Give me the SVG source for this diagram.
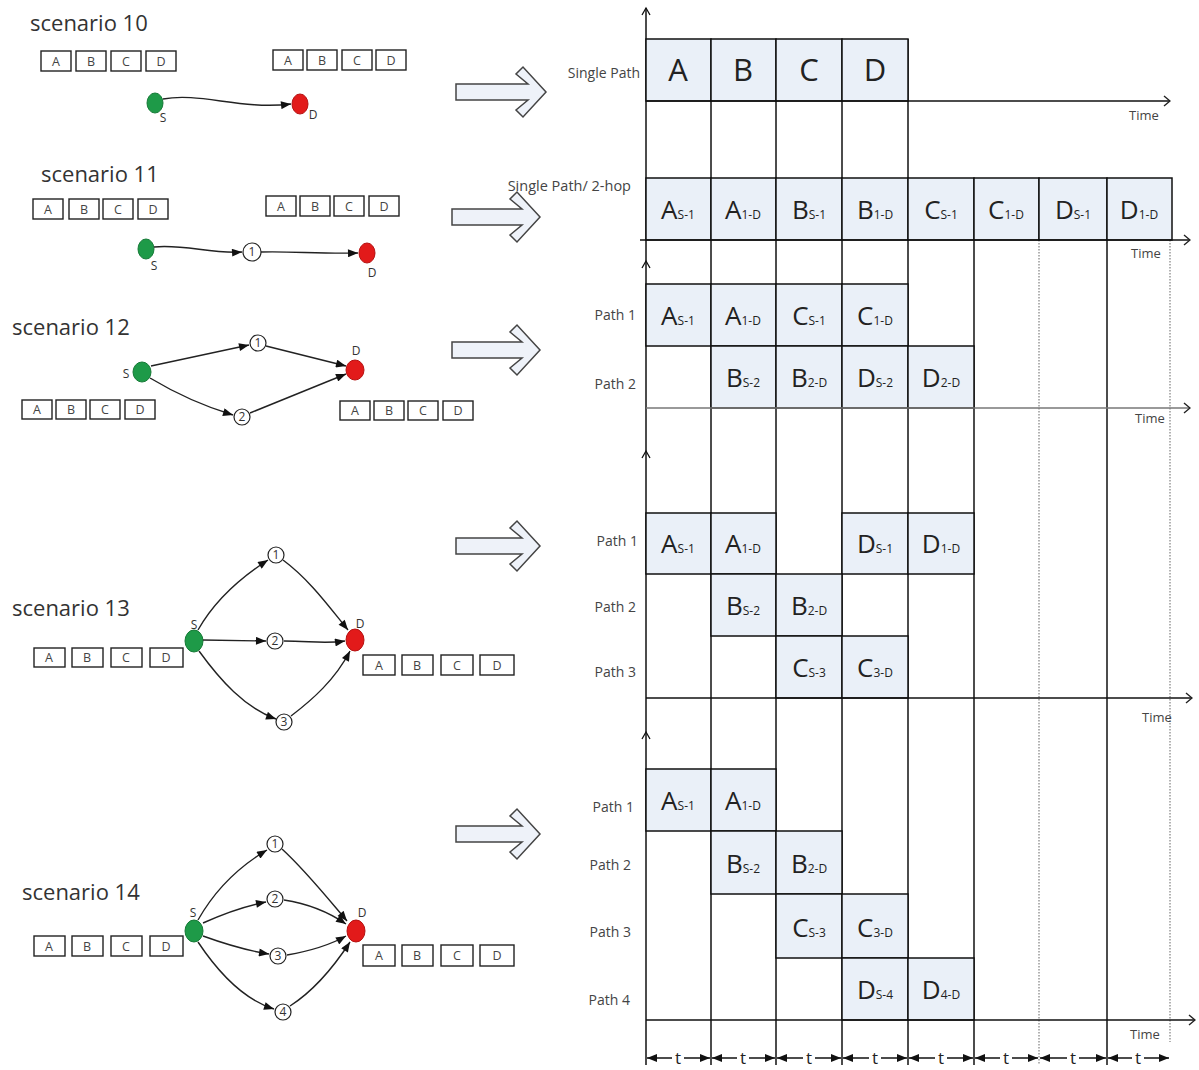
<svg xmlns="http://www.w3.org/2000/svg" width="1199" height="1070" viewBox="0 0 1199 1070">
<style>
.title{font-family:"Open Sans","Liberation Sans",sans-serif;font-size:22px;fill:#333}
.pk{fill:#fff;stroke:#222;stroke-width:1.4}
.pkt{font-family:"Open Sans","Liberation Sans",sans-serif;font-size:12.5px;fill:#444;text-anchor:middle}
.nl{font-family:"Open Sans","Liberation Sans",sans-serif;font-size:12px;fill:#333;text-anchor:middle}
.src{fill:#1e9a48;stroke:#157a36;stroke-width:1}
.dst{fill:#e21a1a;stroke:#b51010;stroke-width:1}
.mid{fill:#fff;stroke:#222;stroke-width:1.2}
.midt{font-family:"Open Sans","Liberation Sans",sans-serif;font-size:12px;fill:#333;text-anchor:middle}
.edge{fill:none;stroke:#222;stroke-width:1.4;marker-end:url(#ah)}
.barrow{fill:#eef2f9;stroke:#444;stroke-width:1.5}
.grid{stroke:#111;stroke-width:1.5}
.dot{stroke:#999;stroke-width:1.5;stroke-dasharray:1.5 1.5}
.cell{fill:#eaf0f8;stroke:#111;stroke-width:1.5}
.big{font-family:"Open Sans","Liberation Sans",sans-serif;font-size:31px;fill:#222;text-anchor:middle}
.bl{font-family:"Open Sans","Liberation Sans",sans-serif;font-size:26px;fill:#222;text-anchor:middle}
.sub{font-size:12px}
.lab{font-family:"Open Sans","Liberation Sans",sans-serif;font-size:14px;fill:#444;text-anchor:end}
.time{font-family:"Open Sans","Liberation Sans",sans-serif;font-size:13px;fill:#444}
.axis{fill:none;stroke:#111;stroke-width:1.5;marker-end:url(#open)}
.tl{font-family:"Open Sans","Liberation Sans",sans-serif;font-size:17px;fill:#222;text-anchor:middle}
.tarr{stroke:#111;stroke-width:1.5;marker-end:url(#tri)}
</style>
<defs>
<marker id="ah" viewBox="0 0 10 8" refX="10" refY="4" markerWidth="11" markerHeight="8" orient="auto" markerUnits="userSpaceOnUse"><path d="M0,0 L10,4 L0,8 z" fill="#111"/></marker>
<marker id="open" viewBox="0 0 10 12" refX="9" refY="6" markerWidth="10" markerHeight="12" orient="auto" markerUnits="userSpaceOnUse"><path d="M3,1 L9,6 L3,11" fill="none" stroke="#222" stroke-width="1.4"/></marker>
<marker id="tri" viewBox="0 0 10 8" refX="10" refY="4" markerWidth="10" markerHeight="8" orient="auto" markerUnits="userSpaceOnUse"><path d="M0,0 L10,4 L0,8 z" fill="#111"/></marker>
</defs>
<rect width="1199" height="1070" fill="#fff"/>

<!-- ===== Left: scenarios ===== -->
<g id="scenario10">
<text class="title" x="30" y="31">scenario 10</text>
<rect class="pk" x="41" y="51" width="30" height="20"/><rect class="pk" x="76" y="51" width="30" height="20"/><rect class="pk" x="111" y="51" width="30" height="20"/><rect class="pk" x="146" y="51" width="30" height="20"/>
<text class="pkt" x="56" y="66">A</text><text class="pkt" x="91" y="66">B</text><text class="pkt" x="126" y="66">C</text><text class="pkt" x="161" y="66">D</text>
<rect class="pk" x="273" y="50" width="30" height="20"/><rect class="pk" x="307" y="50" width="30" height="20"/><rect class="pk" x="342" y="50" width="30" height="20"/><rect class="pk" x="376" y="50" width="30" height="20"/>
<text class="pkt" x="288" y="65">A</text><text class="pkt" x="322" y="65">B</text><text class="pkt" x="357" y="65">C</text><text class="pkt" x="391" y="65">D</text>
</g>
<g id="s10-S"><ellipse class="src" cx="155" cy="103" rx="8" ry="10"/><text class="nl" x="163" y="122">S</text></g>
<g id="s10-D"><ellipse class="dst" cx="300" cy="104" rx="8" ry="10"/><text class="nl" x="313" y="119">D</text></g>

<g id="scenario11">
<text class="title" x="41" y="182">scenario 11</text>
<rect class="pk" x="33" y="199" width="30" height="20"/><rect class="pk" x="69" y="199" width="30" height="20"/><rect class="pk" x="103" y="199" width="30" height="20"/><rect class="pk" x="138" y="199" width="30" height="20"/>
<text class="pkt" x="48" y="214">A</text><text class="pkt" x="84" y="214">B</text><text class="pkt" x="118" y="214">C</text><text class="pkt" x="153" y="214">D</text>
<rect class="pk" x="266" y="196" width="30" height="20"/><rect class="pk" x="300" y="196" width="30" height="20"/><rect class="pk" x="334" y="196" width="30" height="20"/><rect class="pk" x="369" y="196" width="30" height="20"/>
<text class="pkt" x="281" y="211">A</text><text class="pkt" x="315" y="211">B</text><text class="pkt" x="349" y="211">C</text><text class="pkt" x="384" y="211">D</text>
</g>
<g id="s11-S"><ellipse class="src" cx="146" cy="249" rx="8" ry="10"/><text class="nl" x="154" y="270">S</text></g>
<g id="s11-1"><circle class="mid" cx="252" cy="252" r="9"/><text class="midt" x="252" y="256">1</text></g>
<g id="s11-D"><ellipse class="dst" cx="367" cy="253" rx="8" ry="10"/><text class="nl" x="372" y="277">D</text></g>

<g id="scenario12">
<text class="title" x="12" y="335">scenario 12</text>
<rect class="pk" x="22" y="400" width="30" height="19"/><rect class="pk" x="56" y="400" width="30" height="19"/><rect class="pk" x="90" y="400" width="30" height="19"/><rect class="pk" x="125" y="400" width="30" height="19"/>
<text class="pkt" x="37" y="414">A</text><text class="pkt" x="71" y="414">B</text><text class="pkt" x="105" y="414">C</text><text class="pkt" x="140" y="414">D</text>
<rect class="pk" x="340" y="401" width="30" height="19"/><rect class="pk" x="374" y="401" width="30" height="19"/><rect class="pk" x="408" y="401" width="30" height="19"/><rect class="pk" x="443" y="401" width="30" height="19"/>
<text class="pkt" x="355" y="415">A</text><text class="pkt" x="389" y="415">B</text><text class="pkt" x="423" y="415">C</text><text class="pkt" x="458" y="415">D</text>
</g>
<g id="s12-S"><ellipse class="src" cx="142" cy="372" rx="9" ry="10"/><text class="nl" x="126" y="378">S</text></g>
<g id="s12-1"><circle class="mid" cx="258" cy="343" r="8"/><text class="midt" x="258" y="347">1</text></g>
<g id="s12-2"><circle class="mid" cx="242" cy="417" r="8"/><text class="midt" x="242" y="421">2</text></g>
<g id="s12-D"><ellipse class="dst" cx="355" cy="370" rx="9" ry="10"/><text class="nl" x="356" y="355">D</text></g>

<g id="scenario13">
<text class="title" x="12" y="616">scenario 13</text>
<rect class="pk" x="34" y="648" width="31" height="19"/><rect class="pk" x="72" y="648" width="31" height="19"/><rect class="pk" x="111" y="648" width="31" height="19"/><rect class="pk" x="150" y="648" width="33" height="19"/>
<text class="pkt" x="49" y="662">A</text><text class="pkt" x="87" y="662">B</text><text class="pkt" x="126" y="662">C</text><text class="pkt" x="166" y="662">D</text>
<rect class="pk" x="363" y="655" width="32" height="20"/><rect class="pk" x="402" y="655" width="31" height="20"/><rect class="pk" x="441" y="655" width="32" height="20"/><rect class="pk" x="480" y="655" width="34" height="20"/>
<text class="pkt" x="379" y="670">A</text><text class="pkt" x="417" y="670">B</text><text class="pkt" x="457" y="670">C</text><text class="pkt" x="497" y="670">D</text>
</g>
<g id="s13-S"><ellipse class="src" cx="194" cy="641" rx="9" ry="11"/><text class="nl" x="194" y="629">S</text></g>
<g id="s13-1"><circle class="mid" cx="276" cy="555" r="8"/><text class="midt" x="276" y="559">1</text></g>
<g id="s13-2"><circle class="mid" cx="275" cy="641" r="8"/><text class="midt" x="275" y="645">2</text></g>
<g id="s13-3"><circle class="mid" cx="284" cy="722" r="8"/><text class="midt" x="284" y="726">3</text></g>
<g id="s13-D"><ellipse class="dst" cx="355" cy="640" rx="9" ry="11"/><text class="nl" x="360" y="628">D</text></g>

<g id="scenario14">
<text class="title" x="22" y="900">scenario 14</text>
<rect class="pk" x="34" y="936" width="31" height="20"/><rect class="pk" x="72" y="936" width="31" height="20"/><rect class="pk" x="111" y="936" width="31" height="20"/><rect class="pk" x="150" y="936" width="33" height="20"/>
<text class="pkt" x="49" y="951">A</text><text class="pkt" x="87" y="951">B</text><text class="pkt" x="126" y="951">C</text><text class="pkt" x="166" y="951">D</text>
<rect class="pk" x="363" y="945" width="32" height="21"/><rect class="pk" x="402" y="945" width="31" height="21"/><rect class="pk" x="441" y="945" width="32" height="21"/><rect class="pk" x="480" y="945" width="34" height="21"/>
<text class="pkt" x="379" y="960">A</text><text class="pkt" x="417" y="960">B</text><text class="pkt" x="457" y="960">C</text><text class="pkt" x="497" y="960">D</text>
</g>
<g id="s14-S"><ellipse class="src" cx="194" cy="931" rx="9" ry="11"/><text class="nl" x="193" y="917">S</text></g>
<g id="s14-1"><circle class="mid" cx="275" cy="844" r="8"/><text class="midt" x="275" y="848">1</text></g>
<g id="s14-2"><circle class="mid" cx="275" cy="899" r="8"/><text class="midt" x="275" y="903">2</text></g>
<g id="s14-3"><circle class="mid" cx="278" cy="956" r="8"/><text class="midt" x="278" y="960">3</text></g>
<g id="s14-4"><circle class="mid" cx="283" cy="1012" r="8"/><text class="midt" x="283" y="1016">4</text></g>
<g id="s14-D"><ellipse class="dst" cx="356" cy="931" rx="9" ry="11"/><text class="nl" x="362" y="917">D</text></g>

<g id="connectors">
<path class="edge" d="M163,99 C200,92 240,110 291,104"/>
<path class="edge" d="M154,247 C185,244 210,254 242,252"/>
<path class="edge" d="M261,252 C290,251 320,254 358,253"/>
<path class="edge" d="M151,366 L249,345"/>
<path class="edge" d="M266,346 L346,366"/>
<path class="edge" d="M150,378 Q190,402 233,415"/>
<path class="edge" d="M250,413 L346,374"/>
<path class="edge" d="M198,630 C215,600 240,578 268,560"/>
<path class="edge" d="M283,560 C310,580 330,608 348,630"/>
<path class="edge" d="M203,640 L266,641"/>
<path class="edge" d="M284,641 C310,641 325,644 345,641"/>
<path class="edge" d="M199,651 C220,680 245,708 276,719"/>
<path class="edge" d="M291,716 C312,700 335,680 350,651"/>
<path class="edge" d="M198,920 C215,890 240,866 267,850"/>
<path class="edge" d="M282,849 C305,870 325,895 347,921"/>
<path class="edge" d="M203,923 C225,913 245,906 266,902"/>
<path class="edge" d="M284,900 C310,904 330,913 346,924"/>
<path class="edge" d="M203,936 C225,944 250,951 269,954"/>
<path class="edge" d="M287,955 C310,951 330,945 346,936"/>
<path class="edge" d="M198,942 C220,975 245,1000 274,1009"/>
<path class="edge" d="M290,1006 C315,990 335,965 350,942"/>
</g>

<!-- block arrows -->
<g id="arrows">
<polygon class="barrow" points="456,84 528,84 516,74 523,67 546,92 523,117 516,110 528,100 456,100"/>
<polygon class="barrow" points="452,209 522,209 510,199 517,192 540,217 517,242 510,235 522,225 452,225"/>
<polygon class="barrow" points="452,342 522,342 510,332 517,325 540,350 517,375 510,368 522,358 452,358"/>
<polygon class="barrow" points="456,538 522,538 510,528 517,521 540,546 517,571 510,564 522,554 456,554"/>
<polygon class="barrow" points="456,826 522,826 510,816 517,809 540,834 517,859 510,852 522,842 456,842"/>
</g>

<!-- ===== Right: timing charts ===== -->
<g id="grid">
<line class="grid" x1="646" y1="8" x2="646" y2="1065"/>
<polyline fill="none" stroke="#111" stroke-width="1.3" points="642,15 646,8 650,15"/>
<polyline fill="none" stroke="#111" stroke-width="1.3" points="642,268 646,261 650,268"/>
<polyline fill="none" stroke="#111" stroke-width="1.3" points="642,458 646,451 650,458"/>
<polyline fill="none" stroke="#111" stroke-width="1.3" points="642,739 646,732 650,739"/>
<line class="grid" x1="711" y1="39" x2="711" y2="1065"/>
<line class="grid" x1="776" y1="39" x2="776" y2="1065"/>
<line class="grid" x1="842" y1="39" x2="842" y2="1065"/>
<line class="grid" x1="908" y1="39" x2="908" y2="1065"/>
<line class="grid" x1="974" y1="178" x2="974" y2="1065"/>
<line class="dot" x1="1039" y1="240" x2="1039" y2="1065"/>
<line class="grid" x1="1107" y1="240" x2="1107" y2="1065"/>
<line class="dot" x1="1170" y1="240" x2="1170" y2="1042"/>
</g>

<g id="chart1">
<rect class="cell" x="646" y="39" width="65" height="62"/><rect class="cell" x="711" y="39" width="65" height="62"/><rect class="cell" x="776" y="39" width="66" height="62"/><rect class="cell" x="842" y="39" width="66" height="62"/>
<text class="big" x="678" y="81">A</text><text class="big" x="743" y="81">B</text><text class="big" x="809" y="81">C</text><text class="big" x="875" y="81">D</text>
<text class="lab" x="640" y="78">Single Path</text>
</g>

<g id="chart2">
<rect class="cell" x="646" y="178" width="65" height="62"/><rect class="cell" x="711" y="178" width="65" height="62"/><rect class="cell" x="776" y="178" width="66" height="62"/><rect class="cell" x="842" y="178" width="66" height="62"/>
<rect class="cell" x="908" y="178" width="66" height="62"/><rect class="cell" x="974" y="178" width="65" height="62"/><rect class="cell" x="1039" y="178" width="68" height="62"/><rect class="cell" x="1107" y="178" width="65" height="62"/>
<text class="bl" x="678" y="219">A<tspan class="sub">S-1</tspan></text>
<text class="bl" x="743" y="219">A<tspan class="sub">1-D</tspan></text>
<text class="bl" x="809" y="219">B<tspan class="sub">S-1</tspan></text>
<text class="bl" x="875" y="219">B<tspan class="sub">1-D</tspan></text>
<text class="bl" x="941" y="219">C<tspan class="sub">S-1</tspan></text>
<text class="bl" x="1006" y="219">C<tspan class="sub">1-D</tspan></text>
<text class="bl" x="1073" y="219">D<tspan class="sub">S-1</tspan></text>
<text class="bl" x="1139" y="219">D<tspan class="sub">1-D</tspan></text>
<text class="lab" x="631" y="191" style="font-size:14.5px">Single Path/ 2-hop</text>
</g>

<g id="chart3">
<rect class="cell" x="646" y="284" width="65" height="62"/><rect class="cell" x="711" y="284" width="65" height="62"/><rect class="cell" x="776" y="284" width="66" height="62"/><rect class="cell" x="842" y="284" width="66" height="62"/>
<rect class="cell" x="711" y="346" width="65" height="62"/><rect class="cell" x="776" y="346" width="66" height="62"/><rect class="cell" x="842" y="346" width="66" height="62"/><rect class="cell" x="908" y="346" width="66" height="62"/>
<text class="bl" x="678" y="325">A<tspan class="sub">S-1</tspan></text>
<text class="bl" x="743" y="325">A<tspan class="sub">1-D</tspan></text>
<text class="bl" x="809" y="325">C<tspan class="sub">S-1</tspan></text>
<text class="bl" x="875" y="325">C<tspan class="sub">1-D</tspan></text>
<text class="bl" x="743" y="387">B<tspan class="sub">S-2</tspan></text>
<text class="bl" x="809" y="387">B<tspan class="sub">2-D</tspan></text>
<text class="bl" x="875" y="387">D<tspan class="sub">S-2</tspan></text>
<text class="bl" x="941" y="387">D<tspan class="sub">2-D</tspan></text>
<text class="lab" x="636" y="320">Path 1</text>
<text class="lab" x="636" y="389">Path 2</text>
</g>

<g id="chart4">
<rect class="cell" x="646" y="513" width="65" height="61"/><rect class="cell" x="711" y="513" width="65" height="61"/><rect class="cell" x="842" y="513" width="66" height="61"/><rect class="cell" x="908" y="513" width="66" height="61"/>
<rect class="cell" x="711" y="574" width="65" height="62"/><rect class="cell" x="776" y="574" width="66" height="62"/>
<rect class="cell" x="776" y="636" width="66" height="62"/><rect class="cell" x="842" y="636" width="66" height="62"/>
<text class="bl" x="678" y="553">A<tspan class="sub">S-1</tspan></text>
<text class="bl" x="743" y="553">A<tspan class="sub">1-D</tspan></text>
<text class="bl" x="875" y="553">D<tspan class="sub">S-1</tspan></text>
<text class="bl" x="941" y="553">D<tspan class="sub">1-D</tspan></text>
<text class="bl" x="743" y="615">B<tspan class="sub">S-2</tspan></text>
<text class="bl" x="809" y="615">B<tspan class="sub">2-D</tspan></text>
<text class="bl" x="809" y="677">C<tspan class="sub">S-3</tspan></text>
<text class="bl" x="875" y="677">C<tspan class="sub">3-D</tspan></text>
<text class="lab" x="638" y="546">Path 1</text>
<text class="lab" x="636" y="612">Path 2</text>
<text class="lab" x="636" y="677">Path 3</text>
</g>

<g id="chart5">
<rect class="cell" x="646" y="769" width="65" height="62"/><rect class="cell" x="711" y="769" width="65" height="62"/>
<rect class="cell" x="711" y="831" width="65" height="63"/><rect class="cell" x="776" y="831" width="66" height="63"/>
<rect class="cell" x="776" y="894" width="66" height="64"/><rect class="cell" x="842" y="894" width="66" height="64"/>
<rect class="cell" x="842" y="958" width="66" height="62"/><rect class="cell" x="908" y="958" width="66" height="62"/>
<text class="bl" x="678" y="810">A<tspan class="sub">S-1</tspan></text>
<text class="bl" x="743" y="810">A<tspan class="sub">1-D</tspan></text>
<text class="bl" x="743" y="873">B<tspan class="sub">S-2</tspan></text>
<text class="bl" x="809" y="873">B<tspan class="sub">2-D</tspan></text>
<text class="bl" x="809" y="937">C<tspan class="sub">S-3</tspan></text>
<text class="bl" x="875" y="937">C<tspan class="sub">3-D</tspan></text>
<text class="bl" x="875" y="999">D<tspan class="sub">S-4</tspan></text>
<text class="bl" x="941" y="999">D<tspan class="sub">4-D</tspan></text>
<text class="lab" x="634" y="812">Path 1</text>
<text class="lab" x="631" y="870">Path 2</text>
<text class="lab" x="631" y="937">Path 3</text>
<text class="lab" x="630" y="1005">Path 4</text>
</g>

<g id="time-axes">
<path class="axis" d="M646,101 H1170"/>
<path class="axis" d="M640,240 H1190"/>
<path class="axis" d="M646,408 H1190" style="stroke:#777"/>
<path class="axis" d="M646,698 H1192"/>
<path class="axis" d="M646,1020 H1195"/>
<text class="time" x="1129" y="120">Time</text>
<text class="time" x="1131" y="258">Time</text>
<text class="time" x="1135" y="423">Time</text>
<text class="time" x="1142" y="722">Time</text>
<text class="time" x="1130" y="1039">Time</text>
</g>

<g id="t-intervals">
<text class="tl" x="678" y="1064">t</text><line class="tarr" x1="672" y1="1058" x2="647" y2="1058"/><line class="tarr" x1="684" y1="1058" x2="710" y2="1058"/>
<text class="tl" x="743" y="1064">t</text><line class="tarr" x1="737" y1="1058" x2="712" y2="1058"/><line class="tarr" x1="749" y1="1058" x2="775" y2="1058"/>
<text class="tl" x="809" y="1064">t</text><line class="tarr" x1="803" y1="1058" x2="777" y2="1058"/><line class="tarr" x1="815" y1="1058" x2="841" y2="1058"/>
<text class="tl" x="875" y="1064">t</text><line class="tarr" x1="869" y1="1058" x2="843" y2="1058"/><line class="tarr" x1="881" y1="1058" x2="907" y2="1058"/>
<text class="tl" x="941" y="1064">t</text><line class="tarr" x1="935" y1="1058" x2="909" y2="1058"/><line class="tarr" x1="947" y1="1058" x2="973" y2="1058"/>
<text class="tl" x="1006" y="1064">t</text><line class="tarr" x1="1000" y1="1058" x2="975" y2="1058"/><line class="tarr" x1="1012" y1="1058" x2="1038" y2="1058"/>
<text class="tl" x="1073" y="1064">t</text><line class="tarr" x1="1067" y1="1058" x2="1040" y2="1058"/><line class="tarr" x1="1079" y1="1058" x2="1106" y2="1058"/>
<text class="tl" x="1138" y="1064">t</text><line class="tarr" x1="1132" y1="1058" x2="1108" y2="1058"/><line class="tarr" x1="1144" y1="1058" x2="1169" y2="1058"/>
</g>
</svg>
